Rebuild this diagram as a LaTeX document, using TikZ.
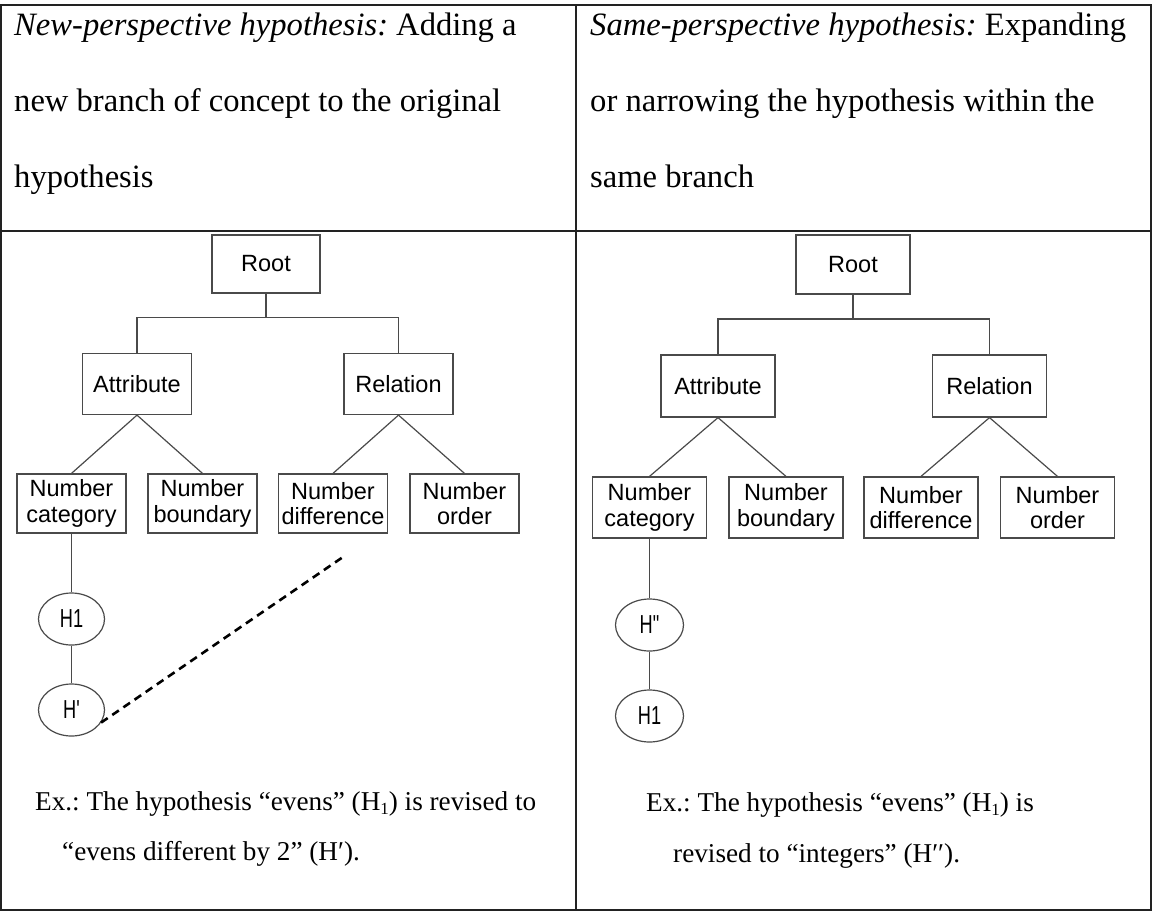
\documentclass[tikz,border=0pt]{standalone}
\usepackage{fontspec}
\setmainfont{Liberation Serif}
\newfontfamily\treefont{Liberation Sans}
\newfontfamily\hypfont[FakeStretch=0.7]{Liberation Sans}
\usetikzlibrary{shapes.geometric}
\definecolor{boxgray}{HTML}{4A4A4A}
\definecolor{rulegray}{HTML}{222222}
\newcommand{\lowsub}[1]{\raisebox{-0.18em}{\fontsize{17}{17}\selectfont #1}}
\begin{document}
\frenchspacing
\begin{tikzpicture}[x=1pt,y=-1pt,
  rule/.style={draw=rulegray, line width=1.6pt},
  link/.style={draw=boxgray, line width=1.2pt},
  dashlink/.style={draw=black, line width=2.6pt, dash pattern=on 8pt off 5.5pt},
  lbox/.style={draw=boxgray, line width=1.2pt, rectangle, inner sep=0pt, align=center,
    minimum width=109pt, minimum height=60pt, font=\treefont\fontsize{23.5}{25.5}\selectfont},
  rbox/.style={lbox, minimum width=114pt, minimum height=62pt},
  hyp/.style={draw=boxgray, line width=1.2pt, ellipse, inner sep=0pt,
    minimum width=66pt, minimum height=52pt, font=\hypfont\fontsize{26}{28}\selectfont},
  head/.style={anchor=base west, inner sep=0pt, font=\fontsize{32.6}{38}\selectfont},
  note/.style={anchor=base west, inner sep=0pt, font=\fontsize{27.2}{32}\selectfont}]
\useasboundingbox (0,0) rectangle (1153,911);
% table
\draw[rule] (1,5) rectangle (1151,910);
\draw[rule] (1,231) -- (1151,231);
\draw[rule] (576,5) -- (576,910);
% header texts
\node[head] (hl1) at (14,35) {\textit{New-perspective hypothesis:} Adding a};
\node[head] (hl2) at (14,111) {new branch of concept to the original};
\node[head] (hl3) at (14,187) {hypothesis};
\node[head] (hr1) at (590,35) {\textit{Same-perspective hypothesis:} Expanding};
\node[head] (hr2) at (590,111) {or narrowing the hypothesis within the};
\node[head] (hr3) at (590,187) {same branch};
% left tree
\node[lbox, minimum width=108pt, minimum height=58pt] (lroot) at (266,264) {Root};
\node[lbox, minimum height=61pt] (lattr) at (137,384) {Attribute};
\node[lbox, minimum height=61pt] (lrel) at (398.5,384) {Relation};
\node[lbox, minimum height=59pt] (lcat) at (71.5,503.5) {Number\\category};
\node[lbox, minimum height=59pt] (lbound) at (202.5,503.5) {Number\\boundary};
\node[lbox, minimum height=59pt] (ldiff) at (333,503.5) {Number\\difference};
\node[lbox, minimum height=59pt] (lord) at (464.5,503.5) {Number\\order};
\node[hyp] (lh1) at (71.5,619) {H1};
\node[hyp] (lhp) at (71.5,710) {H\char"27};
\coordinate (lbar) at (266,317.5);
\coordinate (ldend) at (343,557);
\draw[link] (lroot.south) -- (lbar);
\draw[link] (lattr.north) |- (lbar) -| (lrel.north);
\draw[link] (lattr.south) -- (lcat.north);
\draw[link] (lattr.south) -- (lbound.north);
\draw[link] (lrel.south) -- (ldiff.north);
\draw[link] (lrel.south) -- (lord.north);
\draw[link] (lcat.south) -- (lh1.north);
\draw[link] (lh1.south) -- (lhp.north);
\draw[dashlink] (lhp.-23) -- (ldend);
% right tree
\node[rbox, minimum height=59pt] (rroot) at (853,264.5) {Root};
\node[rbox] (rattr) at (718,386) {Attribute};
\node[rbox] (rrel) at (989.5,386) {Relation};
\node[rbox, minimum height=61pt] (rcat) at (649.5,507.5) {Number\\category};
\node[rbox, minimum height=61pt] (rbound) at (786,507.5) {Number\\boundary};
\node[rbox, minimum height=61pt] (rdiff) at (921,507.5) {Number\\difference};
\node[rbox, minimum height=61pt] (rord) at (1057.5,507.5) {Number\\order};
\node[hyp, minimum width=68pt] (rhpp) at (649.5,625) {H\char"22};
\node[hyp, minimum width=68pt] (rh1) at (649.5,716) {H1};
\coordinate (rbar) at (853,319);
\draw[link] (rroot.south) -- (rbar);
\draw[link] (rattr.north) |- (rbar) -| (rrel.north);
\draw[link] (rattr.south) -- (rcat.north);
\draw[link] (rattr.south) -- (rbound.north);
\draw[link] (rrel.south) -- (rdiff.north);
\draw[link] (rrel.south) -- (rord.north);
\draw[link] (rcat.south) -- (rhpp.north);
\draw[link] (rhpp.south) -- (rh1.north);
% notes
\node[note] (nl1) at (35,810) {Ex.: The hypothesis “evens” (H\lowsub{1}) is revised to};
\node[note] (nl2) at (62,860) {“evens different by 2” (H′).};
\node[note] (nr1) at (646,811) {Ex.: The hypothesis “evens” (H\lowsub{1}) is};
\node[note] (nr2) at (673,862) {revised to “integers” (H′′).};
\end{tikzpicture}
\end{document}
